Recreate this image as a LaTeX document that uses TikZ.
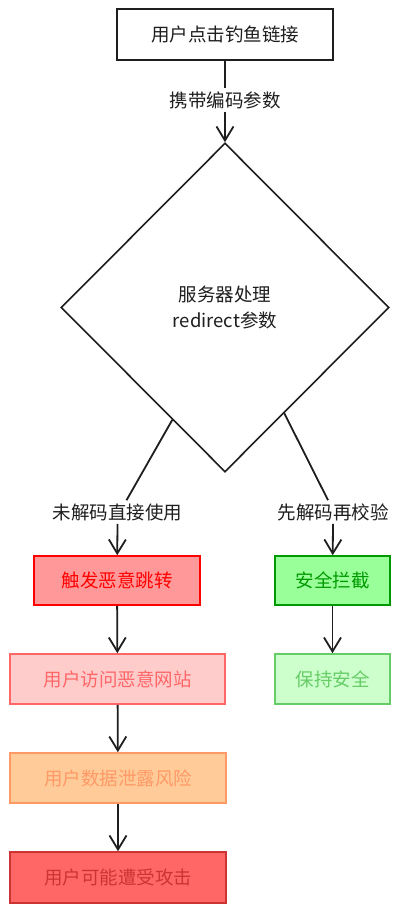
\documentclass[tikz,border=0pt]{standalone}
\usepackage{fontspec}
\setmainfont{Noto Sans CJK SC}
\usetikzlibrary{shapes.geometric,arrows.meta,calc}
\definecolor{redfill}{HTML}{FF9999}
\definecolor{reddraw}{HTML}{FF0000}
\definecolor{grnfill}{HTML}{99FF99}
\definecolor{grndraw}{HTML}{009900}
\definecolor{pinkfill}{HTML}{FFCCCC}
\definecolor{pinkdraw}{HTML}{FF6666}
\definecolor{lgrnfill}{HTML}{CCFFCC}
\definecolor{lgrndraw}{HTML}{66CC66}
\definecolor{orgfill}{HTML}{FFCC99}
\definecolor{orgdraw}{HTML}{FF9966}
\definecolor{dredfill}{HTML}{FF6666}
\definecolor{dreddraw}{HTML}{CC3333}
\definecolor{ink}{HTML}{1E1E1E}
\begin{document}
\begin{tikzpicture}[x=1pt,y=-1pt,
  txt/.style={font=\fontsize{18.5}{26}\selectfont},
  box/.style={txt, draw=ink, line width=1.6pt, inner sep=0pt, align=center},
  lab/.style={txt, fill=white, inner sep=3pt, text=ink},
  conn/.style={draw=ink, line width=1.8pt},
  arr/.style={conn, -{Straight Barb[length=14pt,width=17pt,line width=1.8pt]}}]
\useasboundingbox (0,0) rectangle (402,912);
\fill[white] (0,0) rectangle (402,912);

\node[box, minimum width=216pt, minimum height=51pt, text=ink] (start) at (225,34.5) {用户点击钓鱼链接};
\node[lab] (lab0) at (225,100) {携带编码参数};
\node[txt, diamond, draw=ink, line width=1.6pt, fill=white, minimum width=328pt, minimum height=329pt, inner sep=0pt, align=center, text=ink] (dia) at (225,307.5) {服务器处理\\redirect参数};

\node[lab] (lab1) at (117.5,512) {未解码直接使用};
\node[lab] (lab2) at (333,512) {先解码再校验};

\node[box, fill=redfill, draw=reddraw, text=reddraw, minimum width=166pt, minimum height=49pt] (b1) at (117,580.5) {触发恶意跳转};
\node[box, fill=grnfill, draw=grndraw, text=grndraw, minimum width=115pt, minimum height=49pt] (g1) at (332.5,580.5) {安全拦截};
\node[box, fill=pinkfill, draw=pinkdraw, text=pinkdraw, minimum width=215pt, minimum height=50pt] (b2) at (117.5,679) {用户访问恶意网站};
\node[box, fill=lgrnfill, draw=lgrndraw, text=lgrndraw, minimum width=115pt, minimum height=50pt] (g2) at (332.5,679) {保持安全};
\node[box, fill=orgfill, draw=orgdraw, text=orgdraw, minimum width=216pt, minimum height=50pt] (b3) at (118,778) {用户数据泄露风险};
\node[box, fill=dredfill, draw=dreddraw, text=dreddraw, minimum width=216pt, minimum height=51pt] (b4) at (118,877.5) {用户可能遭受攻击};

\coordinate (dl) at ($(dia.south)!0.32!(dia.west)$);
\coordinate (dr) at ($(dia.south)!0.36!(dia.east)$);
\coordinate (l1t) at ($(lab1.north)+(9,0)$);
\coordinate (l2t) at ($(lab2.north)+(-5,0)$);

\draw[conn] (start) -- (lab0);
\draw[arr] (lab0) -- (dia.north);
\draw[conn] (dl) -- (l1t);
\draw[arr] (lab1.south) -- (b1);
\draw[conn] (dr) -- (l2t);
\draw[arr] (lab2.south) -- (g1);
\draw[arr] (b1) -- (b2);
\draw[arr] (b2) -- (b3);
\draw[arr] (b3) -- (b4);
\draw[arr] (g1) -- (g2);
\end{tikzpicture}
\end{document}
